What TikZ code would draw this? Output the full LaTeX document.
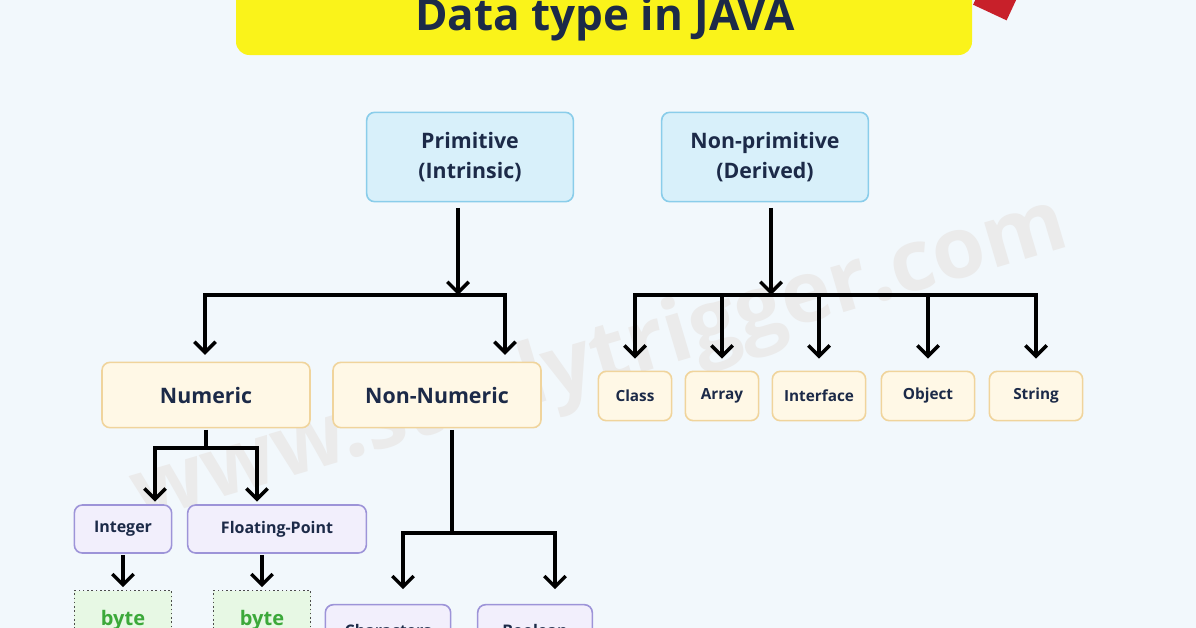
\documentclass[tikz,border=0pt]{standalone}
\usepackage{fontspec}
\setmainfont{Open Sans}
\usepackage{tikz}
\definecolor{bgblue}{HTML}{F2F8FC}
\definecolor{titleyellow}{HTML}{FAF31A}
\definecolor{navytext}{HTML}{1C2A48}
\definecolor{primfill}{HTML}{D8F0FA}
\definecolor{primline}{HTML}{8ACDEA}
\definecolor{numfill}{HTML}{FFF8E6}
\definecolor{numline}{HTML}{F0D49C}
\definecolor{intfill}{HTML}{F2EFFC}
\definecolor{intline}{HTML}{9D94D8}
\definecolor{bytefill}{HTML}{E7F8E4}
\definecolor{bytegreen}{HTML}{3CA93A}
\definecolor{markred}{HTML}{C8202A}
\usetikzlibrary{arrows.meta, positioning}

\begin{document}
\begin{tikzpicture}[x=0.75pt, y=-0.75pt,
				>={Straight Barb[length=8pt,width=16pt,line width=2.6pt]},
				line/.style={draw=black, line width=2.6pt},
				arr/.style={line, ->, shorten >=2pt},
				box/.style={draw, rounded corners=6pt, line width=1.2pt, text=navytext,
					font=\bfseries, align=center, inner sep=0pt},
				primbox/.style={box, fill=primfill, draw=primline, minimum width=155pt,
					minimum height=67pt, font=\fontsize{16}{22}\bfseries},
				numbox/.style={box, fill=numfill, draw=numline, minimum width=156pt,
					minimum height=49pt, font=\fontsize{16}{20}\bfseries},
				refbox/.style={box, fill=numfill, draw=numline, minimum height=37pt,
					font=\fontsize{11.5}{14}\bfseries},
				intbox/.style={box, fill=intfill, draw=intline, minimum height=36pt,
					font=\fontsize{12}{15}\bfseries},
				bytebox/.style={draw=black!70, dotted, line width=1.2pt, fill=bytefill,
					text=bytegreen, font=\fontsize{15}{18}\bfseries, minimum width=73pt,
					minimum height=44pt, inner sep=0pt}]
				%Hintergrund
				\fill[bgblue] (0,0) rectangle (1196,628);
				\clip (0,0) rectangle (1196,628);
				\useasboundingbox (0,0) rectangle (1196,628);
				% Wasserzeichen
				\node[text=black!8, rotate=16.5, font=\fontsize{64}{70}\bfseries] (wm) at (600,362) {www.studytrigger.com};
				% Titel
				\fill[markred, rotate around={-25:(995,5)}] (975,-10) rectangle (1012,14);
				\node[fill=titleyellow, rounded corners=10pt, minimum width=552pt, minimum height=75pt] (title) at (604,5) {};
				\node[text=navytext, font=\fontsize{33}{36}\bfseries, anchor=base] (titletext) at (605,30) {Data type in JAVA};
				% Obere Ebene
				\node[primbox] (prim) at (470,157) {Primitive\\(Intrinsic)};
				\node[primbox] (nonprim) at (765,157) {Non-primitive\\(Derived)};
				% Zweite Ebene
				\node[numbox] (numeric) at (206,395) {Numeric};
				\node[numbox] (nonnum) at (437,395) {Non-Numeric};
				\node[refbox, minimum width=55pt] (class) at (635,396) {Class};
				\node[refbox, minimum width=55pt] (array) at (722,396) {Array};
				\node[refbox, minimum width=70pt] (interface) at (819,396) {Interface};
				\node[refbox, minimum width=70pt] (object) at (928,396) {Object};
				\node[refbox, minimum width=70pt] (string) at (1036,396) {String};
				% Dritte Ebene
				\node[intbox, minimum width=73pt] (integer) at (123,529) {Integer};
				\node[intbox, minimum width=134pt] (floating) at (277,529) {Floating-Point};
				\node[intbox, minimum width=94pt, minimum height=38pt] (chars) at (388,630) {Characters};
				\node[intbox, minimum width=86pt, minimum height=38pt] (bool) at (535,630) {Boolean};
				% Vierte Ebene
				\node[bytebox] (byte1) at (123,620) {byte};
				\node[bytebox] (byte2) at (262,620) {byte};
				% Verbindungen: Primitive
				\coordinate (pj) at (458,295);
				\coordinate (pl) at (205,295);
				\coordinate (pr) at (505,295);
				\draw[arr, shorten >=0pt] ([yshift=-4pt]prim.south -| pj) -- (pj);
				\draw[line] (pl) -- (pr);
				\draw[arr, shorten >=5pt] ([yshift=1.3pt]pl) -- (pl |- numeric.north);
				\draw[arr, shorten >=5pt] ([yshift=1.3pt]pr) -- (pr |- nonnum.north);
				% Verbindungen: Non-primitive
				\coordinate (nj) at (771,295);
				\draw[arr, shorten >=0pt] ([yshift=-4pt]nonprim.south -| nj) -- (nj);
				\draw[line] (class.north |- nj) -- (string.north |- nj);
				\foreach \n in {class, array, interface, object, string}
					\draw[arr, shorten >=9pt] ([yshift=1.3pt]\n.north |- nj) -- (\n.north);
				% Verbindungen: Numeric
				\coordinate (nl) at (155,448);
				\coordinate (nr) at (257,448);
				\draw[line] ([yshift=-1pt]numeric.south) -- (numeric.south |- nl);
				\draw[line] (nl) -- (nr);
				\draw[arr] ([yshift=1.3pt]nl) -- (nl |- integer.north);
				\draw[arr] ([yshift=1.3pt]nr) -- (nr |- floating.north);
				\draw[arr] ([yshift=-1pt]integer.south) -- (byte1.north);
				\draw[arr] ([yshift=-1pt]floating.south -| byte2.north) -- (byte2.north);
				% Verbindungen: Non-Numeric
				\coordinate (cl) at (403,533);
				\coordinate (cr) at (555,533);
				\draw[line] ([yshift=-1pt]nonnum.south -| 452,0) -- (452,533);
				\draw[line] (cl) -- (cr);
				\draw[arr, shorten >=11pt] ([yshift=1.3pt]cl) -- (cl |- chars.north);
				\draw[arr, shorten >=11pt] ([yshift=1.3pt]cr) -- (cr |- bool.north);
\end{tikzpicture}
\end{document}
